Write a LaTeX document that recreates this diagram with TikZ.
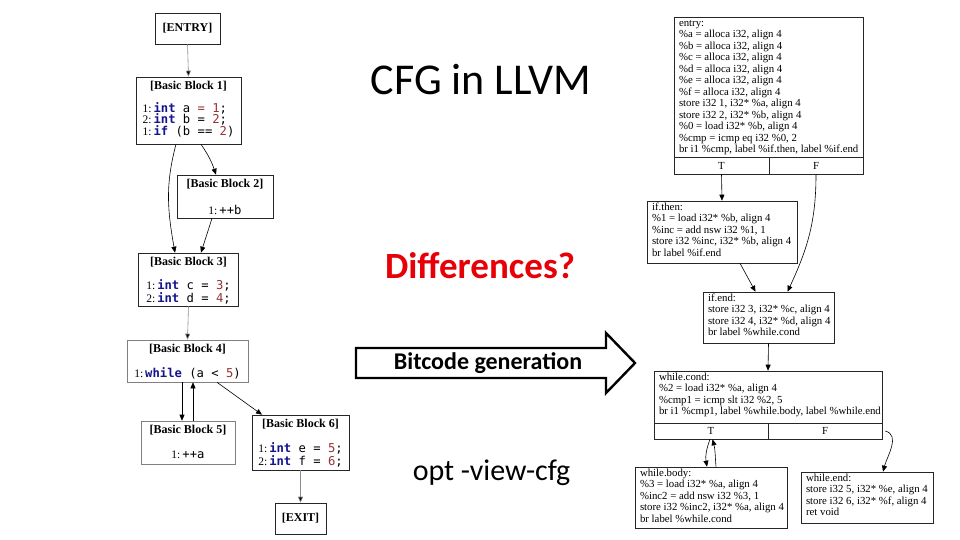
\documentclass[tikz,border=0pt]{standalone}
\usepackage{fontspec}
\setmainfont{Liberation Serif}
\newfontfamily\cfgmono{DejaVu Sans Mono}
\newfontfamily\slidefont{Carlito}
\usetikzlibrary{arrows.meta}
\definecolor{kwblue}{RGB}{20,20,140}
\definecolor{numred}{RGB}{150,50,50}
\definecolor{diffred}{RGB}{232,0,8}
\newcommand{\kw}[1]{\textcolor{kwblue}{\bfseries #1}}
\newcommand{\nm}[1]{\textcolor{numred}{#1}}
\newcommand{\lno}[1]{{\rmfamily\fontsize{11.5}{11}\selectfont #1}\,}
\newcommand{\bbox}[3]{\parbox[c][#2pt][t]{#1pt}{#3}}
\newcommand{\bbtitle}[2][11]{\centering\vspace*{4.5pt}{\bfseries\fontsize{12}{13}\selectfont #2}\par\vspace{#1pt}}
\newcommand{\codefont}{\cfgmono\fontsize{12.2}{11.5}\selectfont}
\newcommand{\irfont}{\raggedright\vspace*{1pt}\fontsize{10.8}{11.5}\selectfont}
\newenvironment{irlines}{\begin{tabular}{@{}l@{}}}{\end{tabular}}
\tikzset{
  bb/.style={draw=black!85, line width=0.6pt, inner sep=0pt, rectangle},
  bbgray/.style={draw=black!50, line width=0.6pt, inner sep=0pt, rectangle},
  ir/.style={draw=black!85, line width=0.6pt, inner xsep=5pt, inner ysep=0pt, rectangle},
  cell/.style={draw=black!85, line width=0.6pt, inner sep=0pt, rectangle, font=\fontsize{10.8}{11}\selectfont},
  edge/.style={line width=0.6pt, draw=black, -{Triangle[length=6pt,width=5pt]}},
  gedge/.style={line width=0.6pt, draw=black!45, -{Triangle[length=6pt,width=5pt,fill=black]}}
}
\begin{document}
\begin{tikzpicture}[x=1pt,y=-1pt]
\useasboundingbox[fill=white] (0,0) rectangle (960,540);

% ---------- left CFG ----------
\node[bb, minimum width=65pt, minimum height=31pt, font=\bfseries\fontsize{12}{13}\selectfont] (entry) at (187.5,28.5) {[ENTRY]};
\node[bb] (bb1) at (188.5,110.5) {\bbox{105}{67}{\bbtitle[10]{[Basic Block 1]}\codefont
  \begin{tabular}{@{}l@{}}
  \lno{1:}\kw{int} a \nm{=} \nm{1};\\[-2pt]
  \lno{2:}\kw{int} b = \nm{2};\\[-2pt]
  \lno{1:}\kw{if} (b == \nm{2})
  \end{tabular}}};
\node[bb] (bb2) at (225,196.5) {\bbox{96}{43}{\bbtitle[15]{[Basic Block 2]}\codefont
  \begin{tabular}{@{}l@{}}\lno{1:}++b\end{tabular}}};
\node[bb] (bb3) at (188.5,279.5) {\bbox{100}{53}{\bbtitle[11.5]{[Basic Block 3]}\codefont
  \begin{tabular}{@{}l@{}}
  \lno{1:}\kw{int} c = \nm{3};\\[-1pt]
  \lno{2:}\kw{int} d = \nm{4};
  \end{tabular}}};
\node[bbgray] (bb4) at (187.5,361) {\bbox{121}{42}{\bbtitle[13]{[Basic Block 4]}\codefont
  \begin{tabular}{@{}l@{}}\lno{1:}\kw{while} (a < \nm{5})\end{tabular}}};
\node[bbgray] (bb5) at (188,442.5) {\bbox{94}{43}{\bbtitle[13.5]{[Basic Block 5]}\codefont
  \begin{tabular}{@{}l@{}}\lno{1:}++a\end{tabular}}};
\node[bb] (bb6) at (300.5,442.5) {\bbox{97}{55}{\bbtitle[12]{[Basic Block 6]}\codefont
  \begin{tabular}{@{}l@{}}
  \lno{1:}\kw{int} e = \nm{5};\\
  \lno{2:}\kw{int} f = \nm{6};
  \end{tabular}}};
\node[bb, minimum width=51pt, minimum height=31pt, font=\bfseries\fontsize{12}{13}\selectfont] (exit) at (300.5,518.5) {[EXIT]};

\draw[gedge] (entry.south) -- (bb1.north);
\draw[edge] ([xshift=12.5pt]bb1.south) to[bend left=8] ([xshift=-9pt]bb2.north);
\draw[edge] ([xshift=-12.5pt]bb1.south) to[out=-105,in=100] ([xshift=-13.5pt]bb3.north);
\draw[edge] ([xshift=-13pt]bb2.south) -- ([xshift=12.5pt]bb3.north);
\draw[gedge] (bb3.south) -- (bb4.north);
\draw[edge] ([xshift=-5.5pt]bb4.south) -- ([xshift=-6pt]bb5.north);
\draw[edge] ([xshift=5pt]bb5.north) -- ([xshift=5.5pt]bb4.south);
\draw[edge] ([xshift=29.5pt]bb4.south) -- ([xshift=-38.5pt]bb6.north);
\draw[gedge] (bb6.south) -- (exit.north);

% ---------- middle ----------
\node[font=\slidefont\fontsize{44}{46}\selectfont] (title) at (481,80) {CFG in LLVM};
\node[font=\slidefont\bfseries\fontsize{37}{39}\selectfont, text=diffred] (diff) at (480,266) {Differences?};
\draw[line width=2.4pt, line join=miter, fill=white] (356,348) -- (606,348) -- (606,333) -- (635,363) -- (606,393) -- (606,378) -- (356,378) -- cycle;
\node[font=\slidefont\bfseries\fontsize{24}{26}\selectfont] (bitgen) at (488,363) {Bitcode generation};
\node[font=\slidefont\fontsize{30}{32}\selectfont] (opt) at (491.5,473) {opt -view-cfg};

% ---------- right CFG ----------
\node[ir] (lentry) at (768.5,87) {\bbox{179}{140}{\irfont\begin{irlines}
  entry:\\
  \%a = alloca i32, align 4\\
  \%b = alloca i32, align 4\\
  \%c = alloca i32, align 4\\
  \%d = alloca i32, align 4\\
  \%e = alloca i32, align 4\\
  \%f = alloca i32, align 4\\
  store i32 1, i32* \%a, align 4\\
  store i32 2, i32* \%b, align 4\\
  \%0 = load i32* \%b, align 4\\
  \%cmp = icmp eq i32 \%0, 2\\
  br i1 \%cmp, label \%if.then, label \%if.end\end{irlines}}};
\node[cell, minimum width=95pt, minimum height=17pt] (entT) at (721.5,165.5) {T};
\node[cell, minimum width=94pt, minimum height=17pt] (entF) at (816,165.5) {F};

\node[ir] (ifthen) at (722,232) {\bbox{140}{62}{\irfont\begin{irlines}
  if.then:\\
  \%1 = load i32* \%b, align 4\\
  \%inc = add nsw i32 \%1, 1\\
  store i32 \%inc, i32* \%b, align 4\\
  br label \%if.end\end{irlines}}};
\node[ir] (ifend) at (768.5,317.5) {\bbox{121}{51}{\irfont\begin{irlines}
  if.end:\\
  store i32 3, i32* \%c, align 4\\
  store i32 4, i32* \%d, align 4\\
  br label \%while.cond\end{irlines}}};
\node[ir] (wcond) at (768,397) {\bbox{218}{52}{\irfont\begin{irlines}
  while.cond:\\
  \%2 = load i32* \%a, align 4\\
  \%cmp1 = icmp slt i32 \%2, 5\\
  br i1 \%cmp1, label \%while.body, label \%while.end\end{irlines}}};
\node[cell, minimum width=114pt, minimum height=16pt] (wcT) at (711,431) {T};
\node[cell, minimum width=114pt, minimum height=16pt] (wcF) at (825,431) {F};
\node[ir] (wbody) at (711,497.5) {\bbox{142}{61}{\irfont\begin{irlines}
  while.body:\\
  \%3 = load i32* \%a, align 4\\
  \%inc2 = add nsw i32 \%3, 1\\
  store i32 \%inc2, i32* \%a, align 4\\
  br label \%while.cond\end{irlines}}};
\node[ir] (wend) at (867,497.5) {\bbox{122}{51}{\irfont\begin{irlines}
  while.end:\\
  store i32 5, i32* \%e, align 4\\
  store i32 6, i32* \%f, align 4\\
  ret void\end{irlines}}};

\draw[edge] (entT.south) -- (ifthen.north);
\draw[edge] (entF.south) to[out=-90,in=65] ([xshift=19pt]ifend.north);
\draw[edge] ([xshift=18pt]ifthen.south) -- ([xshift=-13pt]ifend.north);
\draw[edge] (ifend.south) -- (wcond.north);
\draw[edge] ([xshift=-1pt]wcT.south) to[out=-110,in=100] ([xshift=-4pt]wbody.north);
\draw[edge] ([xshift=5pt]wbody.north) to[out=95,in=-75] ([xshift=1.5pt]wcT.south);
\draw[edge] ([xshift=3pt]wcF.east) to[out=-15,in=75] ([xshift=16pt]wend.north);
\end{tikzpicture}
\end{document}
